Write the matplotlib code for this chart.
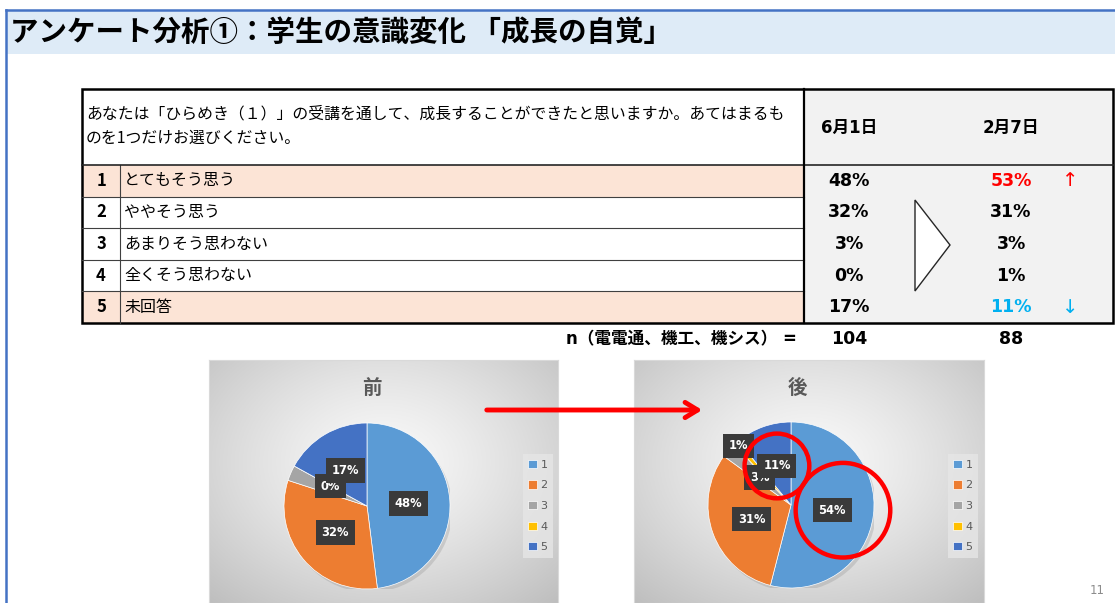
import numpy as np
import matplotlib.pyplot as plt
from matplotlib.patches import Rectangle, Polygon, Circle
from matplotlib.colors import to_rgb

plt.rcParams['font.family'] = ['Noto Sans CJK JP', 'DejaVu Sans']

# ---------------- data ----------------
title = 'アンケート分析①：学生の意識変化 「成長の自覚」'
question = 'あなたは「ひらめき（１）」の受講を通して、成長することができたと思いますか。あてはまるも\nのを1つだけお選びください。'
codes = ['1', '2', '3', '4', '5']
answers = ['とてもそう思う', 'ややそう思う', 'あまりそう思わない', '全くそう思わない', '未回答']
dates = ['6月1日', '2月7日']
jun_pct = [48, 32, 3, 0, 17]
feb_pct = [53, 31, 3, 1, 11]
n_label = 'n（電電通、機工、機シス） ='
n_vals = [104, 88]
pie_before = [48, 32, 3, 0, 17]
pie_after = [54, 31, 3, 1, 11]
pie_titles = ['前', '後']
page_no = '11'

pie_colors = ['#5B9BD5', '#ED7D31', '#A5A5A5', '#FFC000', '#4472C4']

W, H = 1115, 603
fig = plt.figure(figsize=(W / 100, H / 100), dpi=100)
fig.patch.set_facecolor('white')

ax = fig.add_axes([0, 0, 1, 1], zorder=0)
ax.set_xlim(0, W)
ax.set_ylim(H, 0)
ax.axis('off')

# -------- slide frame + title --------
ax.add_patch(Rectangle((6, 10), W - 6, 44, fc='#DEEBF7', ec='none'))
ax.plot([6, W], [10, 10], color='#4472C4', lw=1.8)
ax.plot([6, 6], [10, H], color='#4472C4', lw=1.8)
ax.text(10, 33, title, fontsize=20.5, weight='bold', va='center', ha='left', color='black')
ax.text(1097, 591, page_no, fontsize=8.5, color='#8C8C8C', ha='center', va='center',
        family=['DejaVu Sans'])

# -------- table --------
tx0, tx1, tsplit, tnum = 82, 1113, 804, 120
ty0, yhead = 89, 165
row_h = 31.6
nrow = len(answers)
ty1 = yhead + row_h * nrow

ax.add_patch(Rectangle((tsplit, ty0), tx1 - tsplit, ty1 - ty0, fc='#F2F2F2', ec='none'))
for i in [0, nrow - 1]:
    ax.add_patch(Rectangle((tx0, yhead + i * row_h), tsplit - tx0, row_h, fc='#FCE4D6', ec='none'))
for i in range(1, nrow):
    y = yhead + i * row_h
    ax.plot([tx0, tsplit], [y, y], color='#404040', lw=0.8)
ax.plot([tnum, tnum], [yhead, ty1], color='#404040', lw=0.8)
ax.plot([tx0, tx1], [yhead, yhead], color='#262626', lw=1.2)
ax.plot([tsplit, tsplit], [ty0, ty1], color='black', lw=1.6)
ax.add_patch(Rectangle((tx0, ty0), tx1 - tx0, ty1 - ty0, fc='none', ec='black', lw=1.8))

ax.text(86, 126, question, fontsize=11.4, va='center', ha='left', linespacing=1.55)

col_x = [849, 1011]
for x, d in zip(col_x, dates):
    ax.text(x, 128, d, fontsize=12, weight='bold', ha='center', va='center',
            family=['DejaVu Sans', 'Noto Sans CJK JP'])

for i, (c, a) in enumerate(zip(codes, answers)):
    yc = yhead + (i + 0.5) * row_h
    ax.text(101, yc, c, fontsize=12, weight='bold', ha='center', va='center')
    ax.text(124, yc, a, fontsize=11.5, ha='left', va='center')
    ax.text(col_x[0], yc, f'{jun_pct[i]}%', fontsize=12.5, weight='bold', ha='center',
            va='center', family=['DejaVu Sans'])
    col = 'black'
    mark = ''
    if feb_pct[i] - jun_pct[i] >= 5:
        col, mark = '#FF0000', '↑'
    elif jun_pct[i] - feb_pct[i] >= 5:
        col, mark = '#00B0F0', '↓'
    ax.text(col_x[1], yc, f'{feb_pct[i]}%', fontsize=12.5, weight='bold', ha='center',
            va='center', color=col, family=['DejaVu Sans'])
    if mark:
        ax.text(1070, yc, mark, fontsize=14, ha='center', va='center', color=col,
                family=['DejaVu Sans'])

# big "greater than" triangle between columns
ax.add_patch(Polygon([[915, 200], [950, 245], [915, 291]], closed=True,
                     fc='white', ec='#262626', lw=1.0))

ax.text(797, 339, n_label, fontsize=12, weight='bold', ha='right', va='center',
        family=['DejaVu Sans', 'Noto Sans CJK JP'])
for x, v in zip(col_x, n_vals):
    ax.text(x, 339, str(v), fontsize=12.5, weight='bold', ha='center', va='center',
            family=['DejaVu Sans'])

# -------- pie chart areas --------
def fig_box(x0, y0, x1, y1):
    return [x0 / W, 1 - y1 / H, (x1 - x0) / W, (y1 - y0) / H]

c_light = np.array(to_rgb('#F9F9F9'))
c_dark = np.array(to_rgb('#BEBEBE'))
gy, gx = np.mgrid[0:1:200j, 0:1:200j]
dist = np.sqrt(((gx - 0.5) / 0.75) ** 2 + ((gy - 0.42) / 0.8) ** 2)
dist = np.clip(dist / dist.max(), 0, 1) ** 1.3
grad = c_light[None, None, :] * (1 - dist[..., None]) + c_dark[None, None, :] * dist[..., None]

chart_boxes = [(209, 360, 558, 603), (634, 360, 984, 603)]
pie_centers = [(367, 506), (791, 505)]
pie_r = 83
pie_data = [pie_before, pie_after]
label_dist = [[0.5, 0.5, 0.5, 0.5, 0.5], [0.5, 0.5, 0.5, 0.95, 0.5]]
legend_centers = [(538, 506), (963, 506)]

for k in range(2):
    bx = fig.add_axes(fig_box(*chart_boxes[k]), zorder=1)
    bx.imshow(grad, extent=[0, 1, 0, 1], aspect='auto', origin='upper')
    bx.set_xticks([])
    bx.set_yticks([])
    for s in bx.spines.values():
        s.set_color('#D9D9D9')
        s.set_linewidth(0.8)
    x0, y0, x1, y1 = chart_boxes[k]
    fig.text(((x0 + x1) / 2 - 12) / W, 1 - 388 / H, pie_titles[k], fontsize=14, weight='bold',
             color='#595959', ha='center', va='center', zorder=5)

    cx, cy = pie_centers[k]
    pa = fig.add_axes(fig_box(cx - pie_r, cy - pie_r, cx + pie_r, cy + pie_r), zorder=2)
    pa.patch.set_alpha(0)
    pa.add_patch(Circle((0.03, -0.04), 1.0, fc='#808080', alpha=0.25, ec='none', zorder=0))
    wedges, _ = pa.pie(pie_data[k], colors=pie_colors, startangle=90, counterclock=False,
                       radius=1.0, wedgeprops=dict(edgecolor='white', linewidth=0.5))
    pa.set_xlim(-1, 1)
    pa.set_ylim(-1, 1)
    pa.set_aspect('equal')
    pa.axis('off')

    label_pos = []
    for j, w in enumerate(wedges):
        ang = np.deg2rad((w.theta1 + w.theta2) / 2)
        rr = label_dist[k][j]
        px, py = rr * np.cos(ang), rr * np.sin(ang)
        label_pos.append((px, py))
        if k == 0 and j == 2:
            continue  # hidden under the 0% label in the original
        pa.text(px, py, f'{pie_data[k][j]}%', fontsize=8.3, weight='bold', color='white',
                ha='center', va='center', family=['DejaVu Sans'], zorder=10 + j,
                clip_on=False,
                bbox=dict(boxstyle='square,pad=0.5', fc='#3A3A3A', ec='none'))

    if k == 1:
        # red highlight circles around the changed slices
        lx, ly = label_pos[4]
        pa.add_patch(Circle((lx, ly), 0.39, fc='none', ec='#FF0000', lw=3.2,
                            zorder=20, clip_on=False))
        lx, ly = label_pos[0]
        pa.add_patch(Circle((lx + 0.13, ly), 0.57, fc='none', ec='#FF0000', lw=3.2,
                            zorder=20, clip_on=False))

    lcx, lcy = legend_centers[k]
    leg = fig.legend(wedges, codes, loc='center', bbox_to_anchor=(lcx / W, 1 - lcy / H),
                     labelcolor='#595959', frameon=True, handlelength=0.75,
                     handleheight=0.75, handletextpad=0.35, labelspacing=0.95,
                     borderpad=0.5, fancybox=False, prop={'family': 'DejaVu Sans', 'size': 8})
    leg.get_frame().set_facecolor('#E6E6E6')
    leg.get_frame().set_edgecolor('none')
    leg.set_zorder(6)

# -------- overlay: red arrow --------
ov = fig.add_axes([0, 0, 1, 1], zorder=4)
ov.set_xlim(0, W)
ov.set_ylim(H, 0)
ov.axis('off')
ov.patch.set_alpha(0)
ov.annotate('', xy=(705, 410), xytext=(484, 410),
            arrowprops=dict(arrowstyle='->,head_length=0.9,head_width=0.55',
                            color='#FF0000', lw=3.5))

fig.savefig('out.png', dpi=100)
